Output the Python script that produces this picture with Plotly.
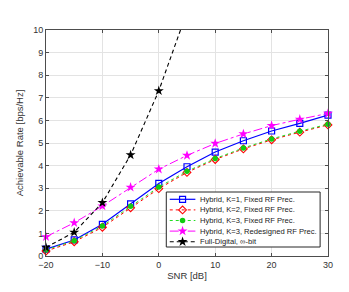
import plotly.graph_objects as go

snr = [-20, -15, -10, -5, 0, 5, 10, 15, 20, 25, 30]
k1_fixed = [0.30, 0.71, 1.40, 2.31, 3.21, 3.95, 4.60, 5.10, 5.53, 5.87, 6.23]
k2_fixed = [0.22, 0.63, 1.27, 2.13, 2.98, 3.70, 4.27, 4.74, 5.14, 5.48, 5.80]
k3_fixed = [0.27, 0.68, 1.33, 2.20, 3.05, 3.75, 4.31, 4.78, 5.18, 5.52, 5.83]
k3_redesigned = [0.85, 1.47, 2.21, 3.04, 3.84, 4.45, 4.98, 5.40, 5.77, 6.05, 6.31]
snr_fd = [-20, -15, -10, -5, 0, 5, 10]
full_digital = [0.38, 1.05, 2.36, 4.47, 7.31, 10.7, 14.3]

names = ["Hybrid, K=1, Fixed RF Prec.",
         "Hybrid, K=2, Fixed RF Prec.",
         "Hybrid, K=3, Fixed RF Prec.",
         "Hybrid, K=3, Redesigned RF Prec.",
         "Full-Digital, \u221e-bit"]

Y_MAX = 10
FONT = "Liberation Sans, Arial, sans-serif"

styles = [
    dict(line=dict(color="#0000ff", width=1.2),
         marker=dict(symbol="square-open", size=6, color="#0000ff", line=dict(width=1.2))),
    dict(line=dict(color="#ff0000", width=1, dash="dot"),
         marker=dict(symbol="diamond-open", size=6, color="#ff0000", line=dict(width=1.1))),
    dict(line=dict(color="#22dd22", width=1, dash="dot"),
         marker=dict(symbol="circle", size=5.5, color="#11cc11")),
    dict(line=dict(color="#ff00ff", width=1, dash="dashdot"),
         marker=dict(symbol="star", size=7.5, color="#ff00ff")),
    dict(line=dict(color="#000000", width=1.1, dash="4px,3px"),
         marker=dict(symbol="star", size=7.5, color="#000000")),
]

fig = go.Figure()
series = [(snr, k1_fixed), (snr, k2_fixed), (snr, k3_fixed), (snr, k3_redesigned)]
for (xs, ys), st, nm in zip(series, styles[:4], names[:4]):
    fig.add_trace(go.Scatter(x=xs, y=ys, name=nm, mode="lines+markers", cliponaxis=False,
                             showlegend=False, **st))

# Full-digital: line (clipped to the axes) + markers that lie inside the axes
fig.add_trace(go.Scatter(x=snr_fd, y=full_digital, name=names[4], mode="lines",
                         line=styles[4]["line"], showlegend=False))
fd_in = [(x, y) for x, y in zip(snr_fd, full_digital) if y <= Y_MAX]
fig.add_trace(go.Scatter(x=[p[0] for p in fd_in], y=[p[1] for p in fd_in], name=names[4],
                         mode="markers", marker=styles[4]["marker"], cliponaxis=False,
                         showlegend=False))

axis_common = dict(showline=True, linecolor="#4d4d4d", linewidth=1, mirror="ticks",
                   ticks="inside", ticklen=3, tickcolor="#4d4d4d",
                   showgrid=True, gridcolor="#e3e3e3", gridwidth=1, zeroline=False,
                   tickfont=dict(family=FONT, size=9, color="#333333"))

fig.update_xaxes(range=[-20, 30], dtick=10, tick0=-20,
                 title=dict(text="SNR [dB]", font=dict(family=FONT, size=9.5, color="#333333"), standoff=3),
                 **axis_common)
fig.update_yaxes(range=[0, Y_MAX], dtick=1, tick0=0,
                 title=dict(text="Achievable Rate [bps/Hz]", font=dict(family=FONT, size=9.5, color="#333333"), standoff=7),
                 **axis_common)

# Target plot-area edges in window pixels; the page body adds an 8px offset.
W, H, BODY = 349, 292, 8
PL, PR, PT, PB = 42, 328, 30, 256

def fx(px):
    return (px - PL) / (PR - PL)

def fy(py):
    return (PB - py) / (PB - PT)

# ---- compact MATLAB-style legend drawn on an overlay axis in plot-fraction coords ----
fig.update_layout(
    xaxis2=dict(overlaying="x", range=[0, 1], visible=False, fixedrange=True),
    yaxis2=dict(overlaying="y", range=[0, 1], visible=False, fixedrange=True),
)

box_l, box_r, box_t, box_b = 164, 320, 192, 247
fig.add_trace(go.Scatter(x=[fx(box_l), fx(box_r), fx(box_r), fx(box_l), fx(box_l)],
                         y=[fy(box_t), fy(box_t), fy(box_b), fy(box_b), fy(box_t)],
                         xaxis="x2", yaxis="y2", mode="lines", fill="toself",
                         fillcolor="white", line=dict(color="#262626", width=1),
                         hoverinfo="skip", showlegend=False, cliponaxis=False))

row0, row_step = 199.3, 10.6
for i, (nm, st) in enumerate(zip(names, styles)):
    ry = row0 + i * row_step
    fig.add_trace(go.Scatter(x=[fx(167.5), fx(193.5)], y=[fy(ry), fy(ry)], xaxis="x2", yaxis="y2",
                             mode="lines", line=st["line"], hoverinfo="skip", showlegend=False,
                             cliponaxis=False))
    fig.add_trace(go.Scatter(x=[fx(180.5)], y=[fy(ry)], xaxis="x2", yaxis="y2",
                             mode="markers", marker=st["marker"], hoverinfo="skip",
                             showlegend=False, cliponaxis=False))
    fig.add_annotation(x=fx(196), y=fy(ry), xref="x2", yref="y2", text=nm, showarrow=False,
                       xanchor="left", yanchor="middle",
                       font=dict(family=FONT, size=7.6, color="#1a1a1a"))

fig.update_layout(
    width=W - BODY, height=H - BODY,
    margin=dict(l=PL - BODY, r=W - PR, t=PT - BODY, b=H - PB),
    paper_bgcolor="white", plot_bgcolor="white",
    showlegend=False,
)

fig.write_html("out.html")
